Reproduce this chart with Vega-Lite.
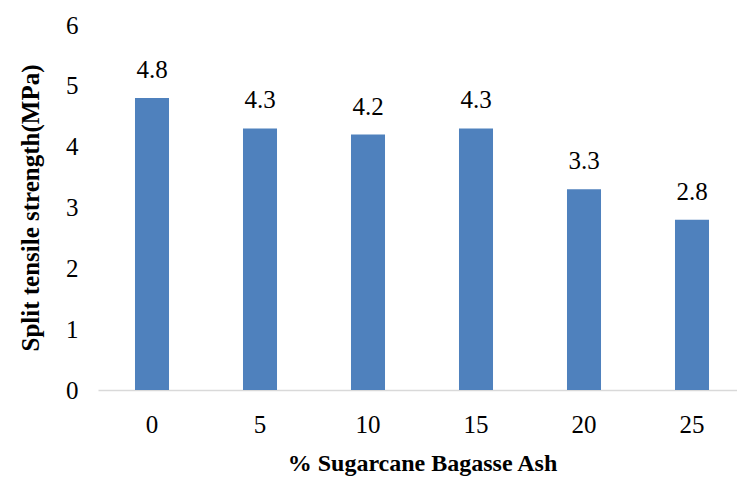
{
  "$schema": "https://vega.github.io/schema/vega-lite/v6.json",
  "autosize": "none",
  "width": 648,
  "height": 365,
  "padding": {"left": 98, "top": 25, "right": 0, "bottom": 92},
  "background": "white",
  "data": {"values": [
    {"ash": "0", "strength": 4.8},
    {"ash": "5", "strength": 4.3},
    {"ash": "10", "strength": 4.2},
    {"ash": "15", "strength": 4.3},
    {"ash": "20", "strength": 3.3},
    {"ash": "25", "strength": 2.8}
  ]},
  "config": {
    "view": {"stroke": null},
    "font": "Liberation Serif",
    "axis": {"labelFont": "Liberation Serif", "titleFont": "Liberation Serif", "labelColor": "#000000", "titleColor": "#000000"}
  },
  "encoding": {
    "x": {"field": "ash", "type": "nominal", "sort": null,
      "scale": {"paddingInner": 0.685, "paddingOuter": 0.3425},
      "axis": {"title": "% Sugarcane Bagasse Ash", "labelAngle": 0, "labelFontSize": 25, "labelPadding": 22, "ticks": false,
        "domainColor": "#D9D9D9", "domainWidth": 1.5, "titleFontSize": 24, "titleFontWeight": "bold", "titlePadding": 14}},
    "y": {"field": "strength", "type": "quantitative",
      "scale": {"domain": [0, 6]},
      "axis": {"title": "Split tensile strength(MPa)", "values": [0,1,2,3,4,5,6], "grid": false, "domain": false, "ticks": false,
        "labelFontSize": 25, "labelPadding": 20, "titleFontSize": 25, "titleFontWeight": "bold", "titlePadding": 22}}
  },
  "layer": [
    {"mark": {"type": "bar", "color": "#4F81BD"}},
    {"mark": {"type": "text", "baseline": "bottom", "dy": -15, "fontSize": 25, "color": "#000000", "font": "Liberation Serif"},
     "encoding": {"text": {"field": "strength", "type": "quantitative", "format": ".1f"}}}
  ]
}
